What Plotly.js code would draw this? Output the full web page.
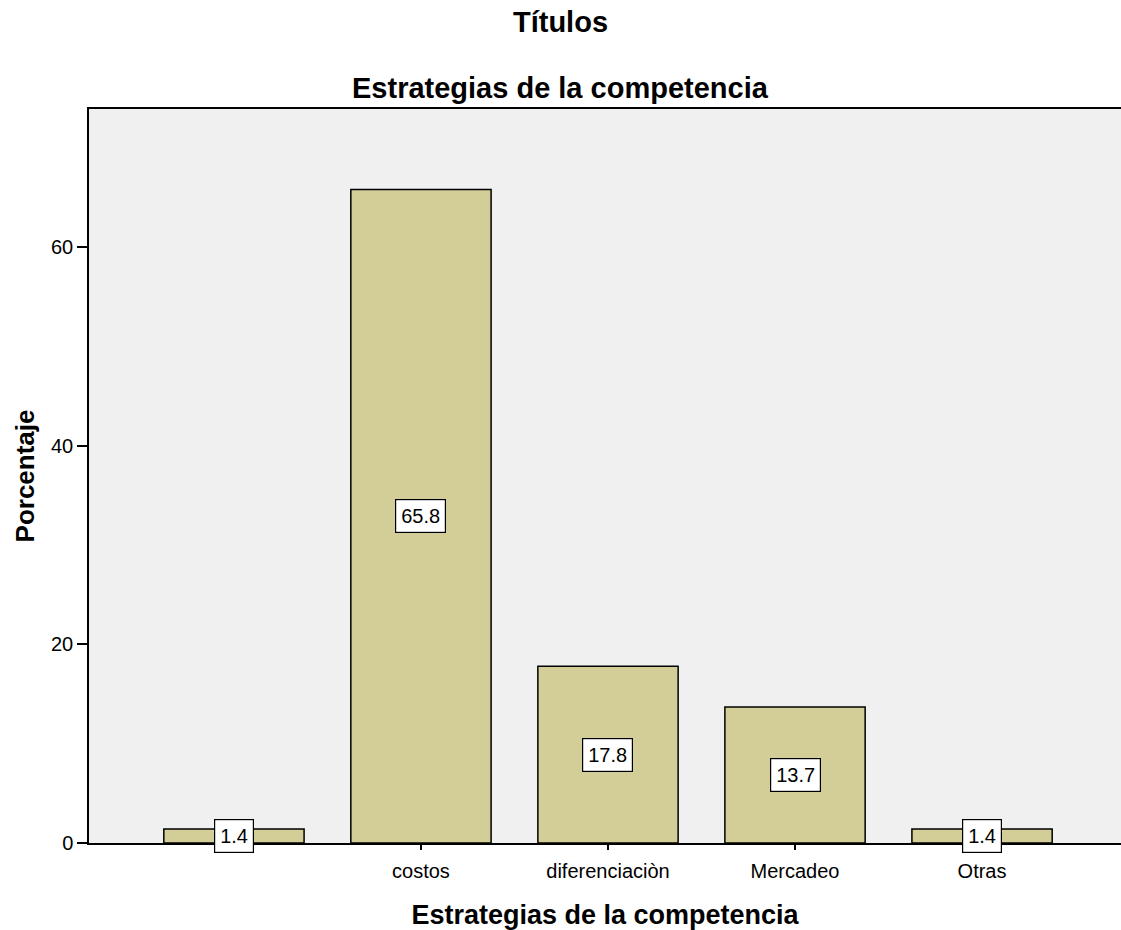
<!DOCTYPE html>
<html>
<head>
<meta charset="utf-8">
<script src="https://cdn.plot.ly/plotly-3.0.1.min.js"></script>
<style>
  html, body { margin: 0; padding: 0; background: #ffffff; }
  #chart { width: 1121px; height: 930px; }
</style>
</head>
<body>
<div id="chart"></div>
<script>
// Estrategias de la competencia: porcentaje por categoría
const categories = [" ", "costos", "diferenciaciòn", "Mercadeo", "Otras"];
const percentages = [1.4, 65.8, 17.8, 13.7, 1.4];
const yTicks = [0, 20, 40, 60];

const FONT = "Liberation Sans, Arial, sans-serif";

const trace = {
  type: "bar",
  x: categories,
  y: percentages,
  width: 0.75,
  marker: {
    color: "#d3ce98",
    line: { color: "#000000", width: 1.5 }
  },
  hoverinfo: "x+y"
};

// value labels in boxed tags at the middle of each bar
const valueLabels = categories.map((c, i) => ({
  x: i,
  y: percentages[i] / 2,
  xref: "x",
  yref: "y",
  text: percentages[i].toFixed(1),
  showarrow: false,
  font: { family: FONT, size: 20, color: "#000000" },
  bgcolor: "#ffffff",
  bordercolor: "#000000",
  borderwidth: 1.2,
  borderpad: 5
}));

const layout = {
  width: 1121,
  height: 930,
  margin: { l: 89, r: 0, t: 109, b: 87 },
  paper_bgcolor: "#ffffff",
  plot_bgcolor: "#f0f0f0",
  font: { family: FONT, size: 20, color: "#000000" },
  showlegend: false,
  title: {
    text: "<b>Títulos</b>",
    font: { family: FONT, size: 29, color: "#000000" },
    xref: "container",
    x: 0.5,
    xanchor: "center",
    yref: "container",
    y: 1 - 22 / 930,
    yanchor: "middle"
  },
  annotations: [
    {
      text: "<b>Estrategias de la competencia</b>",
      xref: "paper",
      yref: "paper",
      x: (560 - 89) / 1032,
      y: 1 + (109 - 88) / 734,
      xanchor: "center",
      yanchor: "middle",
      showarrow: false,
      font: { family: FONT, size: 29, color: "#000000" }
    }
  ].concat(valueLabels),
  xaxis: {
    type: "category",
    range: [-0.775, 4.743],
    showgrid: false,
    zeroline: false,
    showline: true,
    linecolor: "#000000",
    linewidth: 1.5,
    mirror: true,
    ticks: "outside",
    ticklen: 5,
    tickwidth: 1.5,
    tickcolor: "#000000",
    ticklabelstandoff: 4,
    tickfont: { family: FONT, size: 20, color: "#000000" },
    title: {
      text: "<b>Estrategias de la competencia</b>",
      font: { family: FONT, size: 27, color: "#000000" },
      standoff: 25
    }
  },
  yaxis: {
    range: [0, 73.9],
    tickvals: yTicks,
    ticktext: yTicks.map(String),
    showgrid: false,
    zeroline: false,
    showline: true,
    linecolor: "#000000",
    linewidth: 1.5,
    ticks: "outside",
    ticklen: 10,
    tickwidth: 2,
    tickcolor: "#000000",
    tickfont: { family: FONT, size: 20, color: "#000000" },
    title: {
      text: "<b>Porcentaje</b>",
      font: { family: FONT, size: 26, color: "#000000" },
      standoff: 9
    }
  },
  bargap: 0.25
};

Plotly.newPlot("chart", [trace], layout, { displayModeBar: false, responsive: false });
</script>
</body>
</html>
